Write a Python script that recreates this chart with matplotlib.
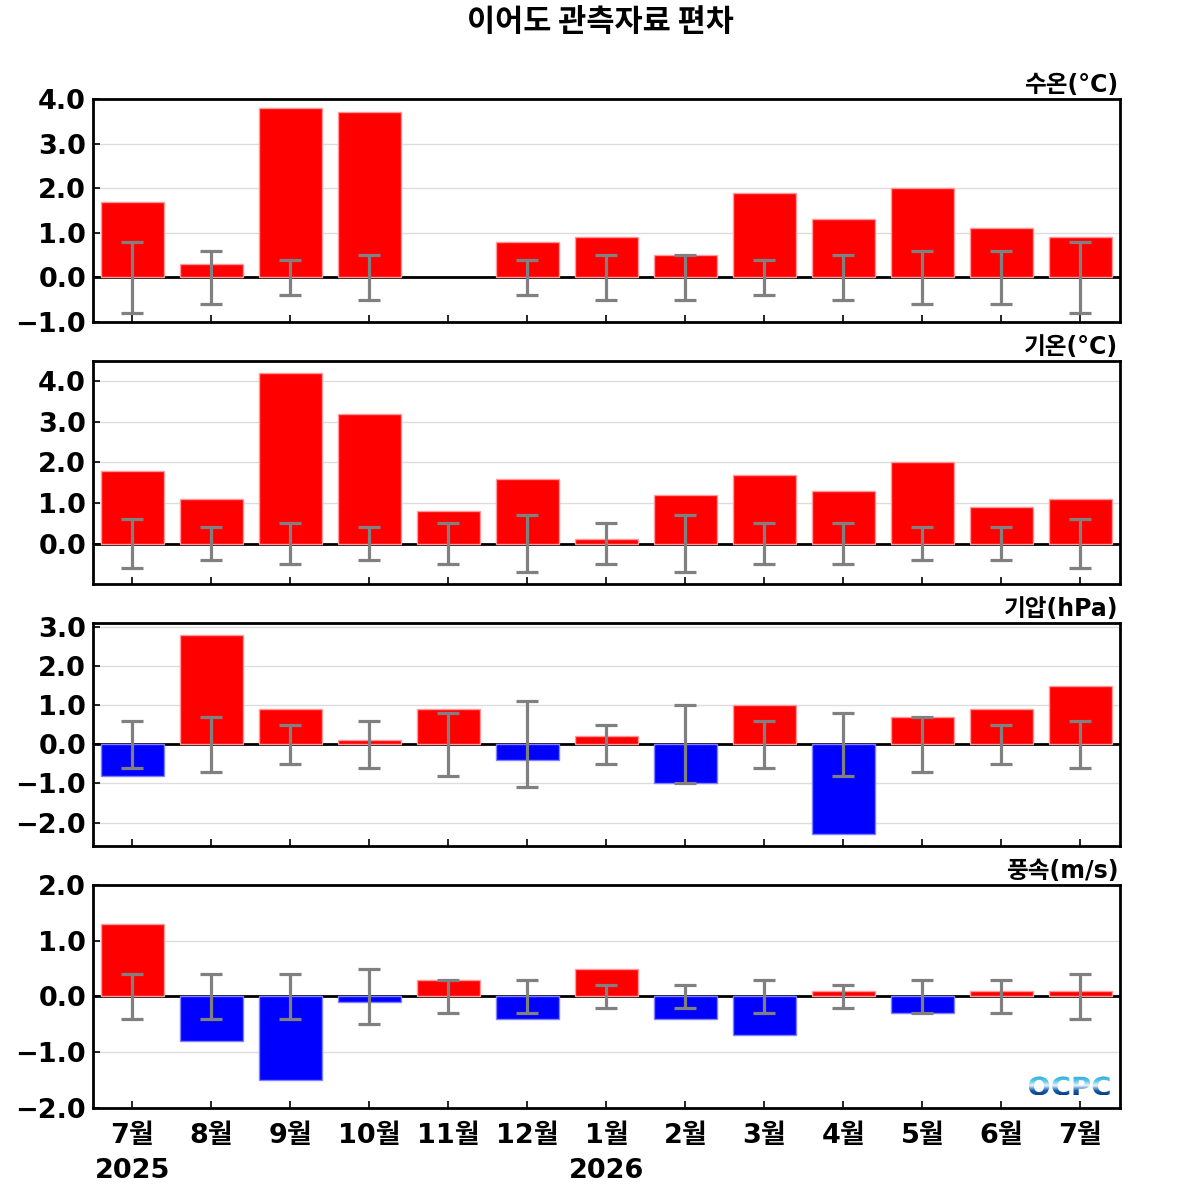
import matplotlib.pyplot as plt
import numpy as np
from matplotlib.textpath import TextPath
from matplotlib.patches import PathPatch
from matplotlib.font_manager import FontProperties
from matplotlib.colors import LinearSegmentedColormap
from matplotlib.transforms import Affine2D

plt.rcParams['font.family'] = ['DejaVu Sans', 'Noto Sans CJK KR']
plt.rcParams['axes.unicode_minus'] = True

months = ["7월\n2025", "8월", "9월", "10월", "11월", "12월", "1월\n2026",
          "2월", "3월", "4월", "5월", "6월", "7월"]

# 수온 (water temp)
sst = [1.7, 0.3, 3.8, 3.7, np.nan, 0.8, 0.9, 0.5, 1.9, 1.3, 2.0, 1.1, 0.9]
sst_err = [0.8, 0.6, 0.4, 0.5, np.nan, 0.4, 0.5, 0.5, 0.4, 0.5, 0.6, 0.6, 0.8]

# 기온 (air temp)
air = [1.8, 1.1, 4.2, 3.2, 0.8, 1.6, 0.1, 1.2, 1.7, 1.3, 2.0, 0.9, 1.1]
air_err = [0.6, 0.4, 0.5, 0.4, 0.5, 0.7, 0.5, 0.7, 0.5, 0.5, 0.4, 0.4, 0.6]

# 기압 (pressure)
pres = [-0.8, 2.8, 0.9, 0.1, 0.9, -0.4, 0.2, -1.0, 1.0, -2.3, 0.7, 0.9, 1.5]
pres_err = [0.6, 0.7, 0.5, 0.6, 0.8, 1.1, 0.5, 1.0, 0.6, 0.8, 0.7, 0.5, 0.6]

# 풍속 (wind speed)
wind = [1.3, -0.8, -1.5, -0.1, 0.3, -0.4, 0.5, -0.4, -0.7, 0.1, -0.3, 0.1, 0.1]
wind_err = [0.4, 0.4, 0.4, 0.5, 0.3, 0.3, 0.2, 0.2, 0.3, 0.2, 0.3, 0.3, 0.4]

panels = [
    ("수온(°C)", sst, sst_err, (-1.0, 4.0), [-1, 0, 1, 2, 3, 4]),
    ("기온(°C)", air, air_err, (-1.0, 4.5), [0, 1, 2, 3, 4]),
    ("기압(hPa)", pres, pres_err, (-2.6, 3.1), [-2, -1, 0, 1, 2, 3]),
    ("풍속(m/s)", wind, wind_err, (-2.0, 2.0), [-2, -1, 0, 1, 2]),
]

fig = plt.figure(figsize=(12, 12), dpi=100)
left, width, height = 0.0775, 0.8558, 0.1858
bottoms = [0.7317, 0.5133, 0.295, 0.0767]
kr = ['Noto Sans CJK KR', 'DejaVu Sans']


def draw_logo(ax):
    # OCPC logo text filled with a vertical blue gradient
    tp = TextPath((0, 0), "OCPC", size=1,
                  prop=FontProperties(family='DejaVu Sans', weight='bold'))
    ext = tp.get_extents()
    bbox = ax.get_window_extent()
    w_ax, h_ax = 81 / bbox.width, 19 / bbox.height
    x1, y0 = 0.99, 0.056
    x0 = x1 - w_ax
    tr = (Affine2D().translate(-ext.x0, -ext.y0)
          .scale(w_ax / ext.width, h_ax / ext.height).translate(x0, y0))
    patch = PathPatch(tr.transform_path(tp), transform=ax.transAxes,
                      facecolor='none', edgecolor='none')
    ax.add_patch(patch)
    cmap = LinearSegmentedColormap.from_list(
        'ocpc', ['#0a3a86', '#1a64b0', '#e8f6fb', '#58c6ea', '#2fa8dc'])
    grad = np.linspace(0, 1, 100).reshape(-1, 1)
    im = ax.imshow(grad, cmap=cmap, origin='lower', aspect='auto',
                   extent=(x0, x1, y0, y0 + h_ax),
                   transform=ax.transAxes, zorder=5)
    im.set_clip_path(patch)


x = np.arange(len(months))
for (label, vals, errs, ylim, yticks), bot in zip(panels, bottoms):
    ax = fig.add_axes([left, bot, width, height])
    vals = np.array(vals, dtype=float)
    colors = ['red' if v >= 0 else 'blue' for v in np.nan_to_num(vals)]
    edges = ['#ff9999' if v >= 0 else '#8080ff' for v in np.nan_to_num(vals)]
    ax.bar(x, vals, width=0.8, color=colors, edgecolor=edges, linewidth=1, zorder=2)
    ax.errorbar(x, np.zeros(len(x)), yerr=errs, fmt='none', ecolor='#808080',
                elinewidth=2.3, capsize=8, capthick=2.3, zorder=3)
    ax.axhline(0, color='black', lw=2, zorder=1.5)
    ax.set_xlim(-0.5, len(x) - 0.5)
    ax.set_ylim(*ylim)
    ax.set_yticks(yticks)
    ax.set_yticklabels([f"{t:.1f}".replace('-', '\u2212') for t in yticks],
                       fontsize=19.5, fontweight='bold')
    ax.yaxis.grid(True, color='#dddddd', lw=1, zorder=0)
    ax.set_axisbelow(True)
    ax.set_xticks(x)
    ax.tick_params(axis='both', direction='in', length=5, width=1.2, pad=5)
    ax.tick_params(axis='x', pad=11)
    for s in ax.spines.values():
        s.set_linewidth(2)
    if bot == bottoms[-1]:
        ax.set_xticklabels(months, fontsize=19.5, fontweight='heavy', linespacing=1.42)
        for t in ax.get_xticklabels():
            t.set_verticalalignment('top')
        draw_logo(ax)
    else:
        ax.set_xticklabels([])
    ax.text(0.9985, 1.008, label, transform=ax.transAxes, ha='right', va='bottom',
            fontsize=17, fontweight='heavy')

fig.text(0.5, 0.982, "이어도 관측자료 편차", ha='center', va='center',
         fontsize=22, fontweight='heavy', family=kr)

plt.savefig("out.png", dpi=100)
